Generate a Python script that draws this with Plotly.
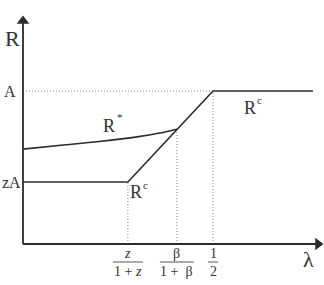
import plotly.graph_objects as go

# data (lambda on x, R on y, A normalised to 1)
A = 1.0
zA = 0.405
lam1 = 0.276   # z/(1+z)
lam2 = 0.405   # beta/(1+beta)
lam3 = 0.5     # 1/2
lam_end = 0.763
rstar_x = [0.0, 0.1, 0.2, 0.3, 0.36, 0.405]
rstar_y = [0.62, 0.645, 0.67, 0.70, 0.725, 0.75]
rc_x = [0.0, lam1, lam3, lam_end]
rc_y = [zA, zA, A, A]
tick_num = ["z", "β", "1"]
tick_den = ["1 + <i>z</i>", "1 +  β", "2"]
tick_pos = [lam1, lam2, lam3]

W, H = 324, 285
X0PX, XS = 23, 380.0
Y0PX, YS = 244, 153.0
def px_x(p): return (p - X0PX) / XS
def px_y(p): return (Y0PX - p) / YS

line_col = "#2b2b2b"
txt_col = "#333333"
dot_col = "#8a8a8a"
font = "Liberation Serif"

fig = go.Figure()
# dotted guides
dot = dict(color=dot_col, width=1, dash="1px,2px")
fig.add_trace(go.Scatter(x=[0, lam3], y=[A, A], mode="lines", line=dot))
fig.add_trace(go.Scatter(x=[lam3, lam3], y=[0, A], mode="lines", line=dot))
fig.add_trace(go.Scatter(x=[lam1, lam1], y=[0, zA], mode="lines", line=dot))
fig.add_trace(go.Scatter(x=[lam2, lam2], y=[0, rstar_y[-1]], mode="lines", line=dot))
# axes
fig.add_trace(go.Scatter(x=[0, px_x(318)], y=[0, 0], mode="lines",
                         line=dict(color=line_col, width=1.8)))
fig.add_trace(go.Scatter(x=[0, 0], y=[0, px_y(22)], mode="lines",
                         line=dict(color=line_col, width=1.8)))
fig.add_trace(go.Scatter(x=[px_x(318)], y=[0], mode="markers",
                         marker=dict(symbol="triangle-right", size=11, color=line_col)))
fig.add_trace(go.Scatter(x=[0], y=[px_y(21)], mode="markers",
                         marker=dict(symbol="triangle-up", size=11, color=line_col)))
# curves
fig.add_trace(go.Scatter(x=rc_x, y=rc_y, mode="lines",
                         line=dict(color=line_col, width=1.6)))
fig.add_trace(go.Scatter(x=rstar_x, y=rstar_y, mode="lines", line_shape="spline",
                         line=dict(color=line_col, width=1.6)))

ann = []
def label(text, xp, yp, size, style="normal"):
    ann.append(dict(x=px_x(xp), y=px_y(yp), xref="x", yref="y", text=text,
                    showarrow=False,
                    font=dict(family=font, size=size, color=txt_col, style=style)))

label("R", 12, 38, 22)
label("A", 10, 91, 16)
label("zA", 11, 182, 16)
label("R", 109, 126, 18)
label("*", 120, 117, 11)
label("R", 250, 108, 18)
label("c", 259, 100, 11)
label("R", 136, 192, 18)
label("c", 145, 185, 11)
label("λ", 308, 259, 22)

# fraction tick labels
num_y, bar_y, den_y = 253, 262, 271
bar_half = [15, 17, 5]
shapes = []
for p, n, d, bh in zip(tick_pos, tick_num, tick_den, bar_half):
    xp = X0PX + p * XS
    ann.append(dict(x=p, y=px_y(num_y), xref="x", yref="y", text=n, showarrow=False,
                    font=dict(family=font, size=14, color=txt_col,
                              style="italic" if n == "z" else "normal")))
    ann.append(dict(x=p, y=px_y(den_y), xref="x", yref="y", text=d, showarrow=False,
                    font=dict(family=font, size=14, color=txt_col)))
    shapes.append(dict(type="line", xref="x", yref="y", x0=px_x(xp - bh), x1=px_x(xp + bh),
                       y0=px_y(bar_y), y1=px_y(bar_y), line=dict(color="#555", width=1)))

fig.update_layout(
    width=W, height=H, margin=dict(l=0, r=0, t=0, b=0),
    paper_bgcolor="white", plot_bgcolor="white", showlegend=False,
    xaxis=dict(range=[px_x(0), px_x(W)], visible=False, fixedrange=True),
    yaxis=dict(range=[px_y(H), px_y(0)], visible=False, fixedrange=True),
    annotations=ann, shapes=shapes,
)
fig.write_html("out.html")
